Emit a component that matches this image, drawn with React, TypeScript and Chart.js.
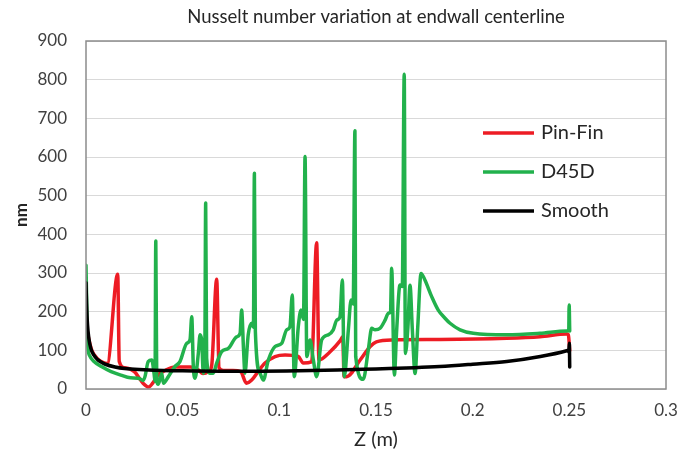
import React, { useEffect, useRef } from "react";
import { Chart, registerables } from "chart.js";

Chart.register(...registerables);

const TITLE = "Nusselt number variation at endwall centerline";
const X_TITLE = "Z (m)";
const Y_TITLE = "nm";
const FONT = "Lato, 'Liberation Sans', sans-serif";

const xMin = 0;
const xMax = 0.3;
const xStep = 0.05;
const yMin = 0;
const yMax = 900;
const yStep = 100;

const seriesNames = ["Pin-Fin", "D45D", "Smooth"];
const seriesColors = ["#ED1C24", "#22B14C", "#000000"];

const pinFinZ = [0, 0.001, 0.003, 0.006, 0.009, 0.011, 0.0164, 0.0172, 0.02, 0.025, 0.0295, 0.0324, 0.0345, 0.037, 0.041, 0.046, 0.054, 0.058, 0.0605, 0.0635, 0.065, 0.0676, 0.0688, 0.071, 0.076, 0.08, 0.083, 0.0857, 0.089, 0.0926, 0.0978, 0.103, 0.1098, 0.1124, 0.1167, 0.1193, 0.1205, 0.126, 0.1315, 0.1328, 0.1335, 0.1348, 0.1418, 0.147, 0.1502, 0.1589, 0.183, 0.2176, 0.2348, 0.2486, 0.2495, 0.2502];
const pinFinNu = [170, 140, 100, 78, 68, 66, 297, 71, 55, 45, 15, 5, 15, 35, 48, 57, 57, 50, 40, 45, 60, 284, 55, 48, 48, 45, 15, 23, 45, 67, 84, 88, 84, 67, 70, 378, 75, 95, 125, 135, 32, 32, 75, 110, 122, 127, 128, 131, 135, 142, 140, 100];

const d45dZ = [0, 0.0003, 0.0008, 0.002, 0.004, 0.008, 0.013, 0.018, 0.023, 0.027, 0.0296, 0.0305, 0.0322, 0.034, 0.0352, 0.0357, 0.0361, 0.0366, 0.0374, 0.0392, 0.04, 0.0426, 0.046, 0.0486, 0.0521, 0.0538, 0.0547, 0.0555, 0.0564, 0.0581, 0.059, 0.0598, 0.0607, 0.0615, 0.0619, 0.0624, 0.0641, 0.0658, 0.0676, 0.0702, 0.0736, 0.0779, 0.0797, 0.0805, 0.0815, 0.0822, 0.0839, 0.0857, 0.0866, 0.0871, 0.0876, 0.09, 0.0917, 0.0943, 0.0978, 0.1012, 0.1038, 0.1055, 0.1067, 0.1077, 0.1098, 0.1112, 0.1125, 0.1133, 0.1142, 0.1159, 0.1176, 0.1193, 0.1219, 0.1253, 0.1279, 0.1297, 0.1314, 0.1326, 0.1336, 0.1357, 0.1371, 0.1382, 0.1391, 0.1395, 0.1434, 0.146, 0.1478, 0.1495, 0.1521, 0.1547, 0.1564, 0.1575, 0.1581, 0.1595, 0.1607, 0.1624, 0.1636, 0.1646, 0.1652, 0.1665, 0.1676, 0.1688, 0.1702, 0.1716, 0.1733, 0.1753, 0.1788, 0.1822, 0.1857, 0.1883, 0.1935, 0.2003, 0.2176, 0.2348, 0.2486, 0.2497, 0.2499, 0.2502];
const d45dNu = [320, 240, 120, 85, 72, 58, 45, 36, 29, 28, 22, 32, 71, 75, 40, 20, 383, 20, 12, 41, 15, 32, 58, 71, 118, 127, 187, 60, 28, 92, 140, 127, 41, 120, 481, 80, 41, 41, 67, 97, 105, 135, 144, 204, 100, 41, 140, 170, 160, 558, 150, 41, 23, 75, 110, 118, 153, 161, 243, 32, 161, 204, 180, 601, 84, 127, 75, 32, 127, 140, 153, 178, 187, 282, 32, 153, 230, 220, 668, 84, 25, 101, 157, 153, 157, 178, 196, 200, 312, 36, 153, 269, 265, 814, 92, 160, 268, 153, 40, 161, 299, 282, 239, 204, 183, 170, 153, 144, 140, 144, 150, 152, 217, 150];

const smoothZ = [0, 0.0003, 0.0008, 0.0015, 0.0025, 0.004, 0.006, 0.008, 0.01, 0.015, 0.02, 0.03, 0.04, 0.05, 0.07, 0.09, 0.11, 0.13, 0.15, 0.17, 0.183, 0.2, 0.2176, 0.235, 0.2486, 0.2492, 0.2497, 0.25, 0.2502];
const smoothNu = [275, 220, 165, 130, 105, 88, 76, 69, 64, 57, 53, 50, 48, 47, 46, 46, 47, 49, 52, 55, 58, 64, 71, 84, 99, 100, 96, 118, 57];

const seriesZ = [pinFinZ, d45dZ, smoothZ];
const seriesNu = [pinFinNu, d45dNu, smoothNu];

const frameAndTextPlugin = {
  id: "frameAndText",
  afterDraw(chart: any) {
    const { ctx, chartArea } = chart;
    const { left, right, top, bottom } = chartArea;
    ctx.save();
    ctx.strokeStyle = "#8c8c8c";
    ctx.lineWidth = 1.5;
    ctx.strokeRect(left, top, right - left, bottom - top);
    ctx.fillStyle = "#262626";
    ctx.font = `18.5px ${FONT}`;
    ctx.textAlign = "center";
    ctx.textBaseline = "middle";
    ctx.fillText(TITLE, (left + right) / 2, 17);
    ctx.font = `20px ${FONT}`;
    ctx.fillText(X_TITLE, (left + right) / 2, 440);
    ctx.save();
    ctx.translate(22, (top + bottom) / 2);
    ctx.rotate(-Math.PI / 2);
    ctx.font = `bold 17px ${FONT}`;
    ctx.fillText(Y_TITLE, 0, 0);
    ctx.restore();
    chart.data.datasets.forEach((ds: any, i: number) => {
      const y = 133 + i * 39;
      ctx.strokeStyle = ds.borderColor;
      ctx.lineWidth = 3.5;
      ctx.beginPath();
      ctx.moveTo(483, y);
      ctx.lineTo(534, y);
      ctx.stroke();
      ctx.fillStyle = "#262626";
      ctx.font = `20px ${FONT}`;
      ctx.textAlign = "left";
      ctx.textBaseline = "middle";
      ctx.fillText(ds.label, 541, y);
    });
    ctx.restore();
  },
};

export default function App() {
  const canvasRef = useRef<HTMLCanvasElement | null>(null);

  useEffect(() => {
    if (!canvasRef.current) return;
    const datasets = seriesNames.map((name, i) => ({
      label: name,
      data: seriesZ[i].map((z, j) => ({ x: z, y: seriesNu[i][j] })),
      borderColor: seriesColors[i],
      backgroundColor: seriesColors[i],
      borderWidth: 3.5,
      pointRadius: 0,
      fill: false,
      order: 2 - i,
      cubicInterpolationMode: "monotone" as const,
      borderJoinStyle: "round" as const,
      borderCapStyle: "round" as const,
    }));
    const chart = new Chart(canvasRef.current, {
      type: "line",
      data: { datasets },
      options: {
        animation: false,
        responsive: false,
        devicePixelRatio: 1,
        layout: { padding: { top: 41, right: 24, left: 0, bottom: 0 } },
        plugins: {
          legend: { display: false },
          title: { display: false },
          tooltip: { enabled: false },
        },
        scales: {
          x: {
            type: "linear",
            min: xMin,
            max: xMax,
            grid: { display: false, drawTicks: false },
            border: { display: false },
            ticks: {
              stepSize: xStep,
              padding: 11,
              color: "#404040",
              font: { family: FONT, size: 17 },
              callback: (v: any) => String(Number(Number(v).toFixed(2))),
            },
            afterFit: (s: any) => {
              s.height = 76;
            },
          },
          y: {
            min: yMin,
            max: yMax,
            grid: { color: "#d9d9d9", lineWidth: 1, drawTicks: false },
            border: { display: false },
            ticks: {
              stepSize: yStep,
              padding: 19,
              color: "#404040",
              font: { family: FONT, size: 17 },
            },
            afterFit: (s: any) => {
              s.width = 86;
            },
          },
        },
      },
      plugins: [frameAndTextPlugin],
    });
    return () => chart.destroy();
  }, []);

  return (
    <div style={{ position: "fixed", left: 0, top: 0, width: 690, height: 465, background: "#fff" }}>
      <canvas ref={canvasRef} width={690} height={465} style={{ display: "block" }} />
    </div>
  );
}
